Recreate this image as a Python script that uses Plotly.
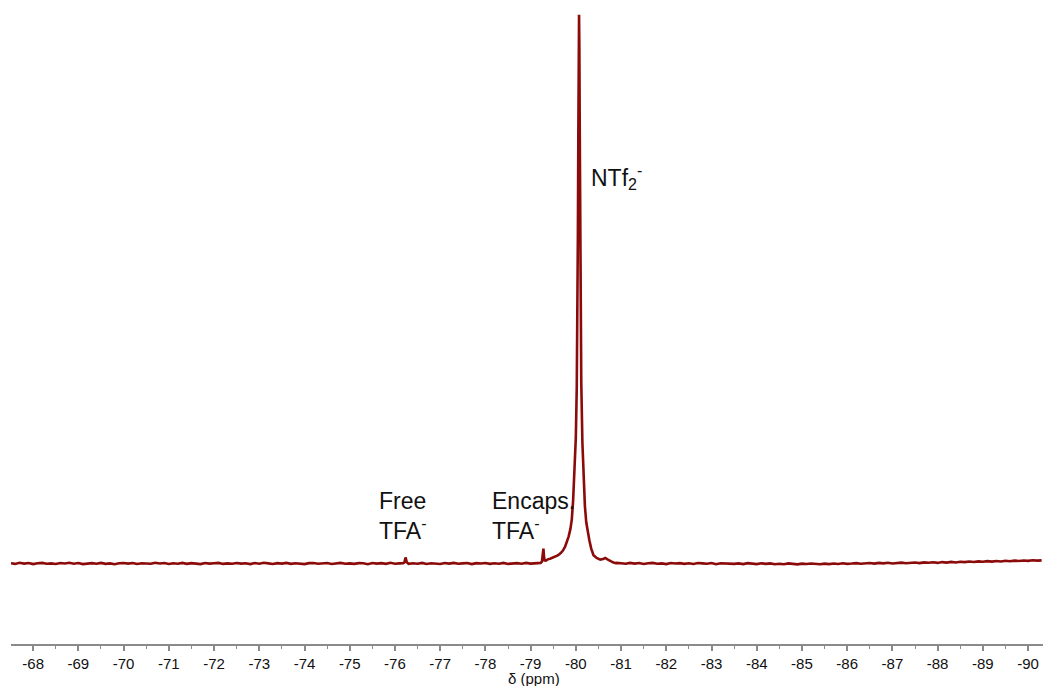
import numpy as np
import plotly.graph_objects as go

# ---- data (chemical shift in ppm, intensity in arbitrary units) ----
baseline_start = -67.5
baseline_step = -0.1
baseline_y = [
    0.05, -0.08, 0.12, -0.03, 0.09, -0.12, 0.04, 0.10, -0.06, 0.02,
    -0.10, 0.07, 0.00, 0.13, -0.05, 0.08, -0.11, 0.03, 0.06, -0.04,
    0.11, -0.07, 0.02, -0.13, 0.05, 0.09, -0.02, 0.07, -0.09, 0.04,
    0.01, -0.06, 0.12, -0.01, 0.08, -0.10, 0.03, -0.04, 0.10, -0.07,
    0.06, 0.00, -0.12, 0.09, -0.03, 0.05, 0.11, -0.08, 0.02, -0.05,
    0.08, -0.02, 0.04, -0.11, 0.07, -0.06, 0.13, 0.01, -0.09, 0.05,
    -0.03, 0.10, -0.07, 0.04, 0.00, -0.12, 0.06, 0.09, -0.04, 0.02,
    0.07, -0.10, 0.03, 0.11, -0.05, 0.01, -0.08, 0.06, 0.04, -0.13,
    0.09, -0.02, 0.05, -0.07, 0.12, -0.04, 0.02, 0.08, -0.06, 0.03,
    -0.05, 0.10, -0.09, 0.04, 0.01, -0.11, 0.07, -0.03, 0.11, -0.06,
    0.02, 0.08, -0.12, 0.05, -0.01, 0.09, -0.07, 0.03, -0.04, 0.10,
    -0.08, 0.04, 0.06, -0.05, 0.11, -0.02, 0.07, -0.09, 0.15, 0.30,
    0.0, 0.0, 0.0, 0.0, 0.0, 0.0, 0.0, 0.0, 0.0, 0.0,
    0.60, 0.80, 0.50, 0.30, 0.10, 0.05, -0.06, 0.10, -0.03, 0.07,
    -0.09, 0.04, 0.11, -0.05, 0.02, -0.11, 0.08, 0.00, 0.06, -0.07,
    0.03, -0.10, 0.07, 0.01, -0.06, 0.09, -0.13, 0.04, -0.02, 0.05,
    -0.08, 0.02, -0.11, 0.06, -0.04, -0.12, 0.03, -0.07, 0.01, -0.14,
    -0.05, -0.13, 0.02, -0.09, -0.16, -0.03, -0.11, 0.00, -0.08, -0.15,
    -0.04, -0.12, -0.01, -0.09, 0.03, -0.07, -0.02, 0.05, -0.06, 0.04,
    0.08, -0.03, 0.10, 0.02, 0.13, -0.01, 0.09, 0.15, 0.04, 0.12,
    0.18, 0.07, 0.20, 0.13, 0.22, 0.10, 0.25, 0.16, 0.28, 0.19,
    0.30, 0.24, 0.35, 0.27, 0.38, 0.31, 0.42, 0.33, 0.45, 0.37,
    0.48, 0.40, 0.52, 0.45, 0.55, 0.47, 0.58, 0.51, 0.56,
]

free_tfa_x = [-76.18, -76.21, -76.235, -76.26, -76.29]
free_tfa_y = [0.05, 0.2, 1.1, 0.25, 0.0]

main_x = [-79.18, -79.22, -79.25, -79.27, -79.283, -79.296, -79.31, -79.34,
          -79.38, -79.43, -79.48, -79.54, -79.60, -79.66, -79.71, -79.76,
          -79.80, -79.84, -79.88, -79.91, -79.94, -79.97, -80.00, -80.02,
          -80.035, -80.045, -80.055, -80.064, -80.071, -80.078, -80.087,
          -80.097, -80.107, -80.12, -80.145, -80.17, -80.20, -80.23, -80.265,
          -80.30, -80.34, -80.39, -80.46, -80.54, -80.60, -80.65, -80.70,
          -80.76, -80.82, -80.88]
main_y = [0.05, 0.1, 0.35, 1.5, 2.7, 1.3, 0.55, 0.5,
          0.75, 0.85, 1.0, 1.15, 1.45, 1.85, 2.3, 3.0,
          3.8, 4.9, 6.3, 8.0, 11.5, 16.5, 23, 32,
          45, 60, 78, 94, 100, 94, 78,
          60, 45, 33, 22, 15, 10.5, 7.5, 5.6,
          4.2, 2.7, 1.5, 1.0, 0.7, 0.8, 1.0, 0.75,
          0.4, 0.2, 0.05]

tick_vals = list(range(-68, -91, -1))
tick_text = [str(v) for v in tick_vals]

# ---- assemble spectrum ----
bx = baseline_start + baseline_step * np.arange(len(baseline_y))
by = np.array(baseline_y)
segments = [(np.array(free_tfa_x), np.array(free_tfa_y)),
            (np.array(main_x), np.array(main_y))]
keep = np.ones(len(bx), bool)
for sx, sy in segments:
    keep &= ~((bx <= sx.max() + 1e-9) & (bx >= sx.min() - 1e-9))
allx = np.concatenate([bx[keep]] + [s[0] for s in segments])
ally = np.concatenate([by[keep]] + [s[1] for s in segments])
order = np.argsort(-allx)
allx, ally = allx[order], ally[order]

FONT = "Arial, Liberation Sans, sans-serif"
fig = go.Figure()
fig.add_trace(go.Scatter(x=allx, y=ally, mode="lines",
                         line=dict(color="#8b0a0a", width=2.6),
                         hoverinfo="skip", showlegend=False))

fig.update_layout(
    width=1043, height=686,
    margin=dict(l=11, r=0, t=0, b=42),
    paper_bgcolor="white", plot_bgcolor="white",
    font=dict(family=FONT, color="#111111"),
    xaxis=dict(range=[-67.51, -90.33], tickvals=tick_vals, ticktext=tick_text,
               showgrid=False, zeroline=False, showline=True,
               linecolor="#8a8a8a", linewidth=2,
               ticks="outside", ticklen=5, tickwidth=1.5, tickcolor="#8a8a8a",
               tickfont=dict(size=15, family=FONT, color="#111111"),
               minor=dict(dtick=0.5, tick0=0, ticks="outside", ticklen=3,
                          tickwidth=1.2, tickcolor="#8a8a8a", showgrid=False)),
    yaxis=dict(range=[-14.68, 102.7], visible=False, showgrid=False,
               zeroline=False),
)

ann_font = dict(family=FONT, size=23, color="#111111")
fig.add_annotation(x=-75.606, y=8.66, xref="x", yref="y", xanchor="left",
                   yanchor="middle", align="left", showarrow=False,
                   text="Free<br>TFA<sup>-</sup>", font=ann_font)
fig.add_annotation(x=-78.10, y=8.66, xref="x", yref="y", xanchor="left",
                   yanchor="middle", align="left", showarrow=False,
                   text="Encaps.<br>TFA<sup>-</sup>", font=ann_font)
fig.add_annotation(x=-80.286, y=70.5, xref="x", yref="y", xanchor="left",
                   yanchor="middle", align="left", showarrow=False,
                   text="NTf<sub>2</sub><sup>-</sup>", font=ann_font)
fig.add_annotation(x=0.5068, y=-0.0528, xref="paper", yref="paper",
                   xanchor="center", yanchor="middle", showarrow=False,
                   text="δ (ppm)", font=dict(family=FONT, size=15, color="#111111"))

fig.write_html("out.html")
